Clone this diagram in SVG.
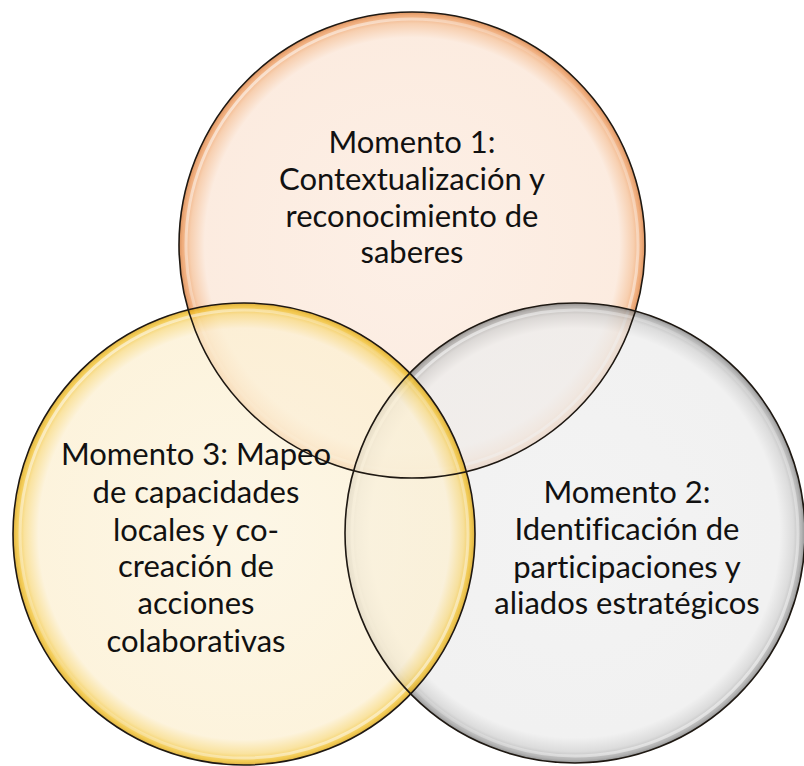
<svg xmlns="http://www.w3.org/2000/svg" width="804" height="766" viewBox="0 0 804 766">
<style>
.lbl{font-family:Lato,"Liberation Sans",sans-serif;font-size:31px;fill:#111;text-anchor:middle;font-variant-ligatures:none}
.disc{stroke:none;opacity:0.78}
.edge{fill:none;stroke:#1e1812;stroke-width:1.6}
.hl{fill:none;stroke:url(#gHl);stroke-width:3;opacity:0.75}
</style>
<defs>
<radialGradient id="gOr" cx="0.5" cy="0.5" r="0.5">
<stop offset="0" stop-color="#fcebdf"/>
<stop offset="0.89" stop-color="#fbe6d7"/>
<stop offset="0.95" stop-color="#f5c29a"/>
<stop offset="0.985" stop-color="#eb9556"/>
<stop offset="1" stop-color="#cf7434"/>
</radialGradient>
<radialGradient id="gYe" cx="0.5" cy="0.5" r="0.5">
<stop offset="0" stop-color="#fcf4df"/>
<stop offset="0.89" stop-color="#fcf0d3"/>
<stop offset="0.95" stop-color="#f8db86"/>
<stop offset="0.985" stop-color="#efbc22"/>
<stop offset="1" stop-color="#d39c10"/>
</radialGradient>
<radialGradient id="gGr" cx="0.5" cy="0.5" r="0.5">
<stop offset="0" stop-color="#f0f0f0"/>
<stop offset="0.89" stop-color="#ededed"/>
<stop offset="0.95" stop-color="#d2d2d2"/>
<stop offset="0.985" stop-color="#a0a0a0"/>
<stop offset="1" stop-color="#757575"/>
</radialGradient>
<linearGradient id="gHl" x1="0" y1="0" x2="1" y2="1">
<stop offset="0" stop-color="#fff" stop-opacity="1"/>
<stop offset="0.45" stop-color="#fff" stop-opacity="0.15"/>
<stop offset="1" stop-color="#fff" stop-opacity="0.85"/>
</linearGradient>
</defs>
<rect width="804" height="766" fill="#ffffff"/>
<g id="node-momento1">
<circle class="disc" cx="412" cy="245" r="233" fill="url(#gOr)"/>
<circle class="hl" cx="412" cy="245" r="226"/>
</g>
<g id="node-momento2">
<circle class="disc" cx="575" cy="533" r="230" fill="url(#gGr)"/>
<circle class="hl" cx="575" cy="533" r="223"/>
</g>
<g id="node-momento3">
<circle class="disc" cx="244" cy="534" r="231" fill="url(#gYe)"/>
<circle class="hl" cx="244" cy="534" r="224"/>
</g>
<g id="outlines">
<circle class="edge" cx="412" cy="245" r="233"/>
<circle class="edge" cx="575" cy="533" r="230"/>
<circle class="edge" cx="244" cy="534" r="231"/>
</g>
<g id="labels">
<g id="label-momento1">
<text class="lbl" x="412" y="153">Momento 1:</text>
<text class="lbl" x="412" y="190">Contextualización y</text>
<text class="lbl" x="412" y="227">reconocimiento de</text>
<text class="lbl" x="412" y="263">saberes</text>
</g>
<g id="label-momento2">
<text class="lbl" x="627" y="503">Momento 2:</text>
<text class="lbl" x="627" y="540">Identificación de</text>
<text class="lbl" x="627" y="578">participaciones y</text>
<text class="lbl" x="627" y="614">aliados estratégicos</text>
</g>
<g id="label-momento3">
<text class="lbl" x="196" y="465">Momento 3: Mapeo</text>
<text class="lbl" x="196" y="503">de capacidades</text>
<text class="lbl" x="196" y="541">locales y co-</text>
<text class="lbl" x="196" y="577">creación de</text>
<text class="lbl" x="196" y="614">acciones</text>
<text class="lbl" x="196" y="652">colaborativas</text>
</g>
</g>
<g id="connectors"></g>
</svg>
